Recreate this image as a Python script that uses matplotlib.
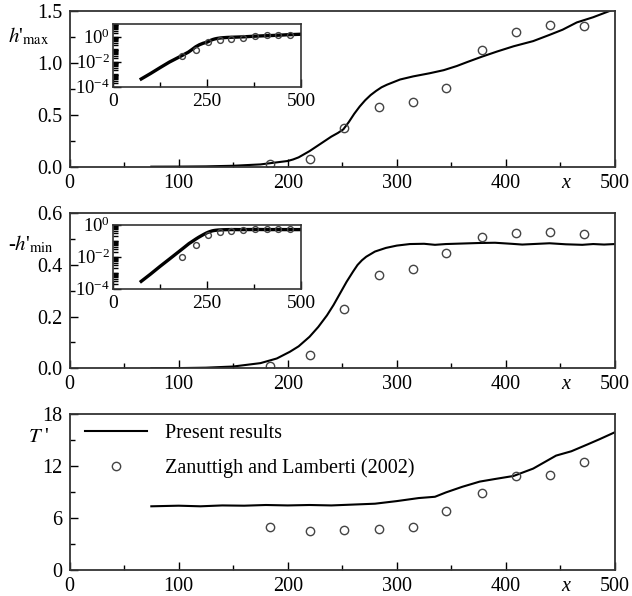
import numpy as np
import matplotlib
matplotlib.use("Agg")
import matplotlib.pyplot as plt
from matplotlib.ticker import MultipleLocator, LogLocator, NullFormatter

plt.rcParams['font.family'] = ['Liberation Serif', 'DejaVu Serif']
plt.rcParams['mathtext.fontset'] = 'stix'
plt.rcParams['font.size'] = 14.5

# ---- measured data (Zanuttigh and Lamberti 2002) ----
x_obs = [184, 220, 252, 284, 315, 345, 378, 409, 440, 472]
hmax_obs = [0.026, 0.077, 0.371, 0.574, 0.623, 0.758, 1.122, 1.300, 1.364, 1.354]
hmin_obs = [0.009, 0.053, 0.228, 0.361, 0.386, 0.446, 0.508, 0.525, 0.528, 0.519]
T_obs = [4.92, 4.54, 4.60, 4.77, 4.92, 6.77, 8.85, 10.88, 10.96, 12.50]

# ---- present results ----
x_hmax = [75, 100, 125, 150, 175, 200, 205, 210, 220, 230, 240, 246, 251, 256,
          261, 266, 271, 276, 281, 286, 291, 297, 303, 315, 330, 343, 355, 365,
          378, 392, 407, 425, 440, 452, 465, 480, 495, 500]
hmax = [0.0004, 0.0011, 0.0032, 0.009, 0.022, 0.055, 0.07, 0.09, 0.15, 0.22,
        0.29, 0.325, 0.36, 0.43, 0.51, 0.58, 0.64, 0.69, 0.73, 0.765, 0.79,
        0.815, 0.84, 0.87, 0.90, 0.93, 0.97, 1.01, 1.06, 1.11, 1.16, 1.21,
        1.27, 1.32, 1.39, 1.44, 1.50, 1.52]

x_hmin = [75, 100, 125, 150, 175, 190, 202, 210, 220, 228, 236, 242, 248, 254,
          260, 264, 268, 272, 280, 290, 300, 312, 325, 335, 345, 360, 375, 390,
          405, 415, 425, 440, 455, 470, 480, 490, 500]
hmin = [0.00028, 0.0008, 0.0024, 0.0069, 0.020, 0.038, 0.064, 0.085, 0.122,
        0.16, 0.205, 0.245, 0.29, 0.335, 0.375, 0.40, 0.418, 0.432, 0.452,
        0.466, 0.475, 0.481, 0.482, 0.478, 0.481, 0.483, 0.485, 0.486, 0.482,
        0.479, 0.481, 0.484, 0.480, 0.478, 0.481, 0.479, 0.481]

x_T = [75, 100, 120, 140, 160, 180, 200, 220, 240, 260, 280, 300, 320, 335,
       345, 360, 376, 390, 407, 425, 446, 460, 475, 486, 500]
T = [7.35, 7.42, 7.35, 7.45, 7.42, 7.50, 7.45, 7.50, 7.45, 7.55, 7.65, 7.95,
     8.30, 8.45, 8.95, 9.60, 10.20, 10.50, 10.85, 11.70, 13.20, 13.70, 14.50,
     15.10, 15.90]

W, H = 632, 596
fig = plt.figure(figsize=(W / 100, H / 100), dpi=100)


def frac(l, t, r, b):
    return [l / W, 1 - b / H, (r - l) / W, (b - t) / H]


def style(ax, lw=1.3):
    for s in ax.spines.values():
        s.set_linewidth(lw)
        s.set_color('#333333')
    ax.tick_params(which='both', direction='in', top=False, right=False)
    ax.tick_params(which='major', length=6, width=1.0, pad=5)
    ax.tick_params(which='minor', length=3.5, width=1.0)


mk = dict(marker='o', ls='none', mfc='none', mec='#444444', mew=1.0)

panels = [
    (frac(69.5, 11, 615, 166.7), x_hmax, hmax, hmax_obs, (0, 1.5), 0.5, 0.25,
     r"$h$'$_{\mathrm{max}}$", 8, 36),
    (frac(69.5, 213.3, 615, 368.3), x_hmin, hmin, hmin_obs, (0, 0.6), 0.2, 0.1,
     r"-$h$'$_{\mathrm{min}}$", 8, 244),
    (frac(69.5, 414, 615, 570), x_T, T, T_obs, (0, 18), 6, 3,
     r"$T$ '", 28, 437),
]

axes = []
for rect, xl, yl, obs, ylim, maj, mnr, lab, lx, ly in panels:
    ax = fig.add_axes(rect)
    ax.plot(xl, yl, color='k', lw=1.5, label='Present results')
    ax.plot(x_obs, obs, ms=6, label='Zanuttigh and Lamberti (2002)', **mk)
    ax.set_xlim(0, 500)
    ax.set_ylim(*ylim)
    ax.xaxis.set_major_locator(MultipleLocator(100))
    ax.xaxis.set_minor_locator(MultipleLocator(50))
    ax.yaxis.set_major_locator(MultipleLocator(maj))
    ax.yaxis.set_minor_locator(MultipleLocator(mnr))
    if maj < 1:
        ax.yaxis.set_major_formatter(lambda v, p: f"{v:.1f}")
    style(ax)
    ax.annotate('x', xy=(455, 0), xycoords=('data', 'axes fraction'),
                xytext=(0, -5), textcoords='offset points', ha='center',
                va='top', style='italic')
    fig.text(lx / W, 1 - ly / H, lab, fontsize=15, ha='left', va='center')
    axes.append(ax)

axes[2].legend(loc='upper left', frameon=False, handlelength=3.1,
               handletextpad=0.85, labelspacing=0.75, borderaxespad=0.1,
               bbox_to_anchor=(0.01, 1.0))

# ---- log insets ----
insets = [
    (frac(113, 24, 301, 86.5), x_hmax, hmax, hmax_obs, (1e-4, 10)),
    (frac(113, 224.5, 301, 288.5), x_hmin, hmin, hmin_obs, (1e-4, 1)),
]
for rect, xl, yl, obs, ylim in insets:
    ax = fig.add_axes(rect)
    ax.plot(xl, yl, color='k', lw=2.4)
    ax.plot(x_obs, obs, ms=4.2, **mk)
    ax.set_yscale('log')
    ax.set_xlim(0, 500)
    ax.set_ylim(*ylim)
    ax.set_xticks([0, 250, 500])
    ax.xaxis.set_minor_locator(MultipleLocator(125))
    ax.set_yticks([1e-4, 1e-2, 1e0])
    ax.yaxis.set_minor_locator(LogLocator(base=10, subs=np.arange(1, 10), numticks=20))
    ax.yaxis.set_minor_formatter(NullFormatter())
    style(ax, lw=1.2)
    ax.tick_params(axis='x', which='major', pad=5, labelsize=14)
    ax.tick_params(axis='y', which='major', pad=2, labelsize=13.5)

fig.savefig('out.png', dpi=100)
